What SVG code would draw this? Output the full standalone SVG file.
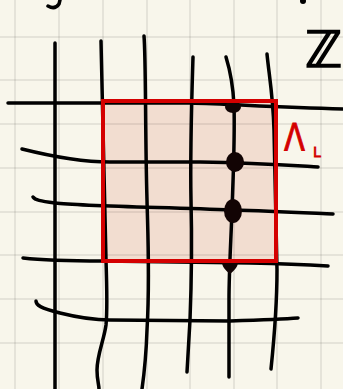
<svg xmlns="http://www.w3.org/2000/svg" width="343" height="389" viewBox="0 0 343 389">
<style>
.grid{stroke:#000;stroke-opacity:0.1;stroke-width:1.5;fill:none}
.ink{stroke:#000;stroke-width:3.5;fill:none;stroke-linecap:round;stroke-linejoin:round}
.dot{fill:#120404}
.red{stroke:#d40000;stroke-width:4;fill:none}
.lbl{font-family:"DejaVu Sans",sans-serif;fill:#d40000;stroke:#d40000}
</style>
<rect x="0" y="0" width="343" height="389" fill="#f8f6eb"/>
<g id="box-fill"><rect x="103" y="101" width="173" height="160" fill="#f2ddd0"/></g>
<g id="paper-grid" class="grid">
<path d="M15,0V389M59,0V389M103,0V389M147,0V389M190,0V389M234,0V389M277,0V389M321,0V389"/>
<path d="M0,37H343M0,80H343M0,124H343M0,168H343M0,212H343M0,255H343M0,299H343M0,343H343"/>
</g>
<g id="connectors">
<path class="ink" d="M55,43 L55,389"/>
<path class="ink" d="M101,41 C102,100 104,180 106,260 C107,290 107,315 106,325 C104,340 97,355 97,370 C97,380 99,385 99,389"/>
<path class="ink" d="M144,36 C146,60 145,130 147,200 C148,240 150,280 147,330 C146,360 144,375 142,389"/>
<path class="ink" d="M193,57 C192,90 190,150 191,200 C192,240 192,270 190,320 L187,372"/>
<path class="ink" d="M226,57 C230,70 233,85 234,105 C235,140 233,180 232,210 C231,240 229,270 229,300 L229,377"/>
<path class="ink" d="M267,54 C269,75 273,95 274,130 C275,180 276,230 277,270 C277,310 274,340 271,369"/>
<path class="ink" d="M8,103 L190,103 C230,104 270,107 343,109"/>
<path class="ink" d="M22,149 C50,156 80,162 110,162 L200,162 C260,163 300,166 318,167"/>
<path class="ink" d="M33,197 C35,200 40,201 55,203 C80,206 150,207 233,210 C270,211 310,213 333,214"/>
<path class="ink" d="M23,258 C40,260 60,261 103,261 L250,263 C290,264 310,265 328,266"/>
<path class="ink" d="M36,301 C36,305 40,308 60,313 C80,318 95,320 110,320 L230,321 C260,320 285,319 298,318"/>
</g>
<g id="site-1"><ellipse class="dot" cx="233" cy="107" rx="8" ry="6"/></g>
<g id="site-2"><ellipse class="dot" cx="235" cy="162" rx="9" ry="10"/></g>
<g id="site-3"><ellipse class="dot" cx="233" cy="211" rx="9" ry="12"/></g>
<g id="site-4"><path class="dot" d="M222,262 C222,268 228,272 230,274 C232,272 238,268 238,262 Z"/></g>
<g id="box-outline"><rect class="red" x="103" y="101" width="173" height="160"/></g>
<g id="label-lambda">
<text class="lbl" x="284" y="150" font-size="38" stroke-width="0.8" textLength="21" lengthAdjust="spacingAndGlyphs">Λ</text>
<text class="lbl" x="313" y="157" font-size="14" stroke-width="0.8">L</text>
</g>
<g id="label-Z">
<text x="305" y="67" font-family="DejaVu Sans,sans-serif" font-size="50" fill="#000" stroke="#000" stroke-width="1.5">ℤ</text>
</g>
<path class="ink" d="M48,6 Q55,10 59,4 L60,0"/>
<circle cx="303" cy="1" r="3" fill="#000"/>
</svg>
